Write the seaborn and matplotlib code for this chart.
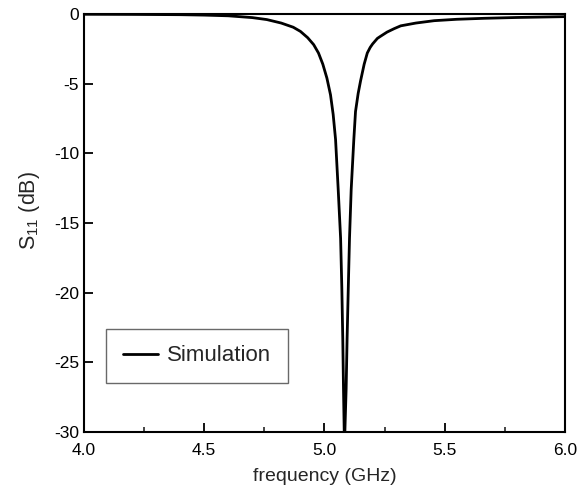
import numpy as np
import pandas as pd
import matplotlib
matplotlib.use("Agg")
import matplotlib.pyplot as plt
from matplotlib.ticker import MultipleLocator
import seaborn as sns

# values (GHz, dB)
freq_ghz = [4.0, 4.2, 4.4, 4.5, 4.6, 4.7, 4.76, 4.82, 4.87, 4.9,
            4.93, 4.955, 4.975, 4.993, 5.01, 5.025, 5.036, 5.046, 5.057, 5.067,
            5.072, 5.076, 5.079, 5.083, 5.090, 5.094, 5.099, 5.104, 5.111, 5.122,
            5.129, 5.14, 5.15, 5.165, 5.178, 5.19, 5.20, 5.21, 5.22, 5.233,
            5.26, 5.29, 5.317, 5.38, 5.456, 5.55, 5.663, 5.8, 6.0]
s11_db = [-0.02, -0.03, -0.05, -0.08, -0.13, -0.26, -0.40, -0.65, -0.95, -1.25,
          -1.7, -2.2, -2.8, -3.6, -4.6, -5.8, -7.2, -9.0, -12.6, -16.1,
          -19.6, -23.3, -26.9, -31.0, -26.9, -23.3, -19.6, -16.1, -12.6, -9.0,
          -7.0, -5.7, -4.8, -3.6, -2.8, -2.4, -2.15, -1.95, -1.75, -1.6,
          -1.3, -1.05, -0.85, -0.65, -0.48, -0.38, -0.31, -0.25, -0.19]

x_ticks = [4.0, 4.5, 5.0, 5.5, 6.0]
y_ticks = [0, -5, -10, -15, -20, -25, -30]

df = pd.DataFrame({"freq": freq_ghz, "s11": s11_db})

sns.set_theme(style="ticks")
plt.rcParams["font.family"] = ["Liberation Sans", "DejaVu Sans"]
plt.rcParams["mathtext.fontset"] = "custom"
plt.rcParams["mathtext.rm"] = "Liberation Sans"
plt.rcParams["mathtext.it"] = "Liberation Sans"

fig = plt.figure(figsize=(5.87, 4.91), dpi=100)
ax = fig.add_axes([0.1431, 0.1202, 0.8194, 0.8513])

sns.lineplot(data=df, x="freq", y="s11", ax=ax, color="black",
             linewidth=2.0, label="Simulation", sort=False)

ax.set_xlim(4.0, 6.0)
ax.set_ylim(-30, 0)
ax.set_xticks(x_ticks)
ax.set_xticklabels([f"{t:.1f}" for t in x_ticks])
ax.set_yticks(y_ticks)
ax.set_yticklabels([str(t) for t in y_ticks])
ax.xaxis.set_minor_locator(MultipleLocator(0.25))

ax.tick_params(axis="both", which="major", direction="in", length=6.5,
               width=1.3, labelsize=12.5, colors="black")
ax.tick_params(axis="x", which="major", pad=8)
ax.tick_params(axis="y", which="major", pad=3.5)
ax.tick_params(axis="x", which="minor", direction="in", length=3.5, width=1.2)
for s in ax.spines.values():
    s.set_visible(True)
    s.set_linewidth(1.5)
    s.set_color("black")

ax.set_xlabel("frequency (GHz)", fontsize=14)
ax.xaxis.set_label_coords(0.5, -0.086)
ax.set_ylabel("S$_{11}$ (dB)", fontsize=15.5)
ax.yaxis.set_label_coords(-0.087, 0.531)

leg = ax.legend(loc="lower left", bbox_to_anchor=(0.046, 0.117),
                borderaxespad=0, fontsize=16, frameon=True, fancybox=False,
                handlelength=1.6, handletextpad=0.4, borderpad=0.75)
leg.get_frame().set_edgecolor("#444444")
leg.get_frame().set_linewidth(1.0)

fig.savefig("out.png", dpi=100)
